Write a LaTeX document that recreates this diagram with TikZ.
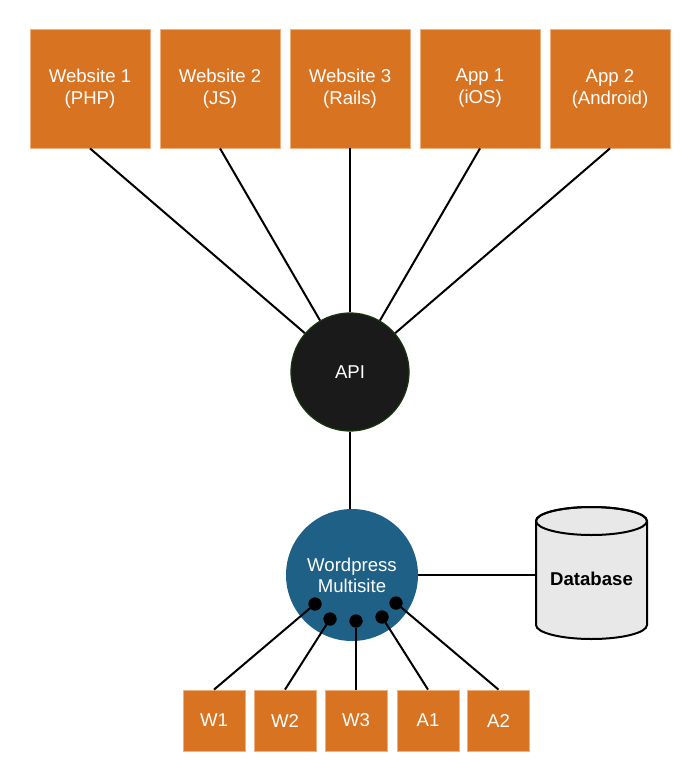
\documentclass[tikz,border=0pt]{standalone}
\usepackage{fontspec}
\setmainfont{Liberation Sans}
\definecolor{boxorange}{RGB}{216,115,33}
\definecolor{boxedge}{RGB}{240,175,125}
\definecolor{wpblue}{RGB}{31,96,135}
\definecolor{apidark}{RGB}{26,26,26}
\definecolor{apiedge}{RGB}{25,55,15}
\definecolor{dbgray}{RGB}{232,232,232}
\tikzset{
  topbox/.style={rectangle, fill=boxorange, draw=boxedge, line width=0.8pt,
    minimum width=120pt, minimum height=119pt, inner sep=0pt, align=center,
    text=white, font=\fontsize{18.6}{22}\selectfont},
  smallbox/.style={rectangle, fill=boxorange, draw=boxedge, line width=0.8pt,
    minimum width=62pt, minimum height=61pt, inner sep=0pt,
    text=white, font=\fontsize{18.6}{22}\selectfont},
  apinode/.style={circle, fill=apidark, draw=apiedge, line width=1.2pt,
    minimum size=118pt, inner sep=0pt, text=white, font=\fontsize{18.6}{22}\selectfont},
  wpnode/.style={circle, fill=wpblue, draw=none,
    minimum size=132pt, inner sep=0pt, align=center, text=white,
    font=\fontsize{18.6}{21}\selectfont},
  portdot/.style={circle, fill=black, minimum size=13pt, inner sep=0pt},
  link/.style={draw=black, line width=2pt},
}
\begin{document}
\begin{tikzpicture}[x=1pt, y=-1pt]
\useasboundingbox (0,0) rectangle (700,774);
% top boxes
\node[topbox] (w1) at (90,88.5) {Website 1\\(PHP)};
\node[topbox] (w2) at (220,88.5) {Website 2\\(JS)};
\node[topbox] (w3) at (350,88.5) {Website 3\\(Rails)};
\node[topbox] (a1) at (480,88.5) {App 1\\(iOS)};
\node[topbox] (a2) at (610,88.5) {App 2\\(Android)};
% API
\node[apinode] (api) at (350,372) {API};
% wordpress
\node[wpnode] (wp) at (352,575) {Wordpress\\Multisite};
% database cylinder
\draw[line width=2pt, fill=dbgray]
  (536,521) -- (536,625)
  arc[start angle=180, end angle=360, x radius=55.5pt, y radius=14pt]
  -- (647,521)
  arc[start angle=0, end angle=180, x radius=55.5pt, y radius=14pt] -- cycle;
\draw[line width=2pt] (591.5,521) ellipse[x radius=55.5pt, y radius=14pt];
\node[rectangle, minimum width=111pt, minimum height=104pt, inner sep=0pt,
  font=\bfseries\fontsize{18.6}{22}\selectfont] (db) at (591.5,579) {Database};
% bottom boxes
\node[smallbox] (bw1) at (214,720.5) {W1};
\node[smallbox] (bw2) at (285,720.5) {W2};
\node[smallbox] (bw3) at (356,720.5) {W3};
\node[smallbox] (ba1) at (428,720.5) {A1};
\node[smallbox] (ba2) at (498.5,720.5) {A2};
% connectors top
\foreach \b in {w1,w2,w3,a1,a2}{
  \draw[link] (\b.south) -- (api);
}
\draw[link] (api) -- (api |- wp.north);
\draw[link] (wp.east) -- (wp.east -| db.west);
% dots
\node[portdot] (d1) at (315,604) {};
\node[portdot] (d2) at (330,619) {};
\node[portdot] (d3) at (356,621) {};
\node[portdot] (d4) at (382,617) {};
\node[portdot] (d5) at (396,603) {};
\draw[link] (d1) -- (bw1.north);
\draw[link] (d2) -- (bw2.north);
\draw[link] (d3) -- (bw3.north);
\draw[link] (d4) -- (ba1.north);
\draw[link] (d5) -- (ba2.north);
% redraw dots above lines
\foreach \d in {d1,d2,d3,d4,d5}{
  \fill[black] (\d) circle (6.5pt);
}
\end{tikzpicture}
\end{document}
